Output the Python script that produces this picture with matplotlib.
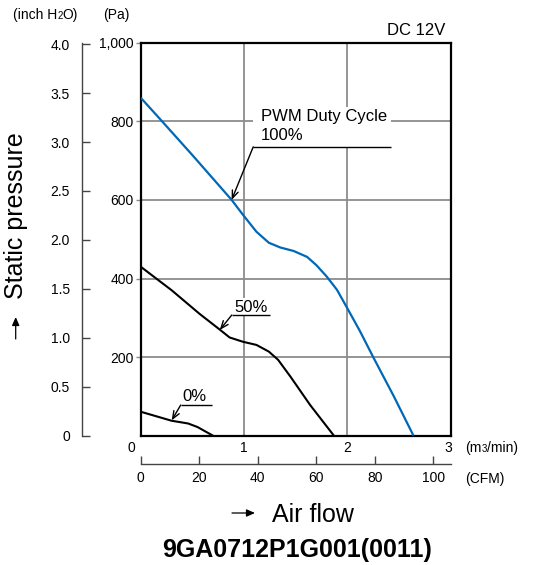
import matplotlib
matplotlib.use("Agg")
import matplotlib.pyplot as plt
from matplotlib.patches import Rectangle, FancyArrowPatch

plt.rcParams['font.family'] = ['Liberation Sans', 'DejaVu Sans']

# ---------------- data (air flow m3/min, static pressure Pa) ----------------
flow_100 = [0.00, 0.20, 0.50, 0.88, 0.99, 1.12, 1.24, 1.35, 1.48, 1.61,
            1.70, 1.80, 1.90, 2.00, 2.12, 2.25, 2.45, 2.64]
pres_100 = [860, 802, 714, 600, 562, 519, 491, 479, 470, 455,
            434, 405, 371, 324, 267, 200, 100, 0]

flow_50 = [0.00, 0.30, 0.57, 0.77, 0.86, 0.99, 1.12, 1.24, 1.33,
           1.45, 1.64, 1.87]
pres_50 = [430, 370, 310, 269, 250, 239, 231, 214, 193,
           150, 78, 0]

flow_0 = [0.00, 0.30, 0.37, 0.46, 0.55, 0.70]
pres_0 = [61, 38, 35, 31, 22, 0]

m3_ticks = [0, 1, 2, 3]
m3_labels = ['0', '1', '2', '3']
pa_ticks = [200, 400, 600, 800, 1000]
pa_labels = ['200', '400', '600', '800', '1,000']
inch_ticks = [0, 0.5, 1.0, 1.5, 2.0, 2.5, 3.0, 3.5, 4.0]
inch_labels = ['0', '0.5', '1.0', '1.5', '2.0', '2.5', '3.0', '3.5', '4.0']
cfm_ticks = [0, 20, 40, 60, 80, 100]
cfm_labels = ['0', '20', '40', '60', '80', '100']

PA_PER_INCH = 249.089
CFM_PER_M3 = 35.3147

W, H = 537, 565
fig = plt.figure(figsize=(W / 100, H / 100), dpi=100)

def fx(px):
    return px / W

def fy(py):
    return 1 - py / H

L, R, T, B = 140.7, 450.7, 42.7, 435.7
ax = fig.add_axes([fx(L), fy(B), (R - L) / W, (B - T) / H])
ax.set_xlim(0, 3)
ax.set_ylim(0, 1000)

grid_c = '#8c8c8c'
for v in [1, 2]:
    ax.axvline(v, color=grid_c, lw=1.3, zorder=1)
for v in [200, 400, 600, 800]:
    ax.axhline(v, color=grid_c, lw=1.3, zorder=1)

for s in ax.spines.values():
    s.set_linewidth(1.6)
    s.set_color('black')

blue = '#0068b7'
ax.plot(flow_100, pres_100, color=blue, lw=1.6, zorder=4, solid_capstyle='butt',
        solid_joinstyle='round')
ax.plot(flow_50, pres_50, color='black', lw=1.5, zorder=4, solid_capstyle='butt',
        solid_joinstyle='round')
ax.plot(flow_0, pres_0, color='black', lw=1.5, zorder=4, solid_capstyle='butt',
        solid_joinstyle='round')

# Pa axis
ax.set_yticks(pa_ticks, pa_labels)
ax.tick_params(axis='y', direction='out', length=3.5, width=1.0, color=grid_c,
               pad=1.5, labelsize=10)
# m3/min axis: labels drawn as annotations
ax.set_xticks([])
for v, lab in zip(m3_ticks, m3_labels):
    ha = 'center'
    dx = 0
    if v == 0:
        ha = 'right'
        dx = -4
    if v == 3:
        dx = -1.5
    ax.annotate(lab, xy=(v, 0), xycoords=('data', 'axes fraction'),
                xytext=(dx, -11.6), textcoords='offset points',
                ha=ha, va='baseline', fontsize=10)

# inch H2O axis
sec_y = ax.secondary_yaxis(-58.7 / (R - L),
                           functions=(lambda p: p / PA_PER_INCH,
                                      lambda i: i * PA_PER_INCH))
sec_y.set_yticks(inch_ticks, inch_labels)
sec_y.tick_params(direction='in', length=5.8, width=1.0, color='#444444',
                  pad=8.6, labelsize=10)
sec_y.spines['left'].set_color('#444444')
sec_y.spines['left'].set_linewidth(1.0)

# CFM axis
sec_x = ax.secondary_xaxis(-(464.3 - B) / (B - T),
                           functions=(lambda m: m * CFM_PER_M3,
                                      lambda c: c / CFM_PER_M3))
sec_x.set_xticks(cfm_ticks, cfm_labels)
sec_x.tick_params(direction='in', length=5.5, width=1.0, color='#444444',
                  pad=4.5, labelsize=10)
sec_x.spines['bottom'].set_color('#444444')
sec_x.spines['bottom'].set_linewidth(1.0)

# annotations
ann_c = 'black'

def leader(tip, corner, end_x, box_top):
    ax.add_patch(Rectangle((corner[0], corner[1]), end_x - corner[0],
                           box_top - corner[1], facecolor='white',
                           edgecolor='none', zorder=2))
    ax.plot([corner[0], end_x], [corner[1], corner[1]], color=ann_c, lw=1.0,
            zorder=5, solid_capstyle='butt')
    ax.annotate('', xy=tip, xytext=corner,
                arrowprops=dict(arrowstyle='->,head_length=0.55,head_width=0.22',
                                color=ann_c, lw=1.0, shrinkA=0, shrinkB=0),
                zorder=5)

leader((0.88, 600), (1.089, 735), 2.427, 837)
ax.text(1.165, (B - 120.7) / 0.393, 'PWM Duty Cycle', fontsize=12,
        ha='left', va='baseline', zorder=6)
ax.text(1.165, (B - 140.0) / 0.393, '100%', fontsize=12,
        ha='left', va='baseline', zorder=6)

leader((0.765, 269), (0.881, 307), 1.252, 350)
ax.text(1.065, (B - 311.7) / 0.393, '50%', fontsize=12, ha='center',
        va='baseline', zorder=6)

leader((0.30, 39), (0.387, 78), 0.687, 112)
ax.text(0.519, (B - 401.0) / 0.393, '0%', fontsize=12, ha='center',
        va='baseline', zorder=6)

# ---------------- free texts ----------------
fig.text(fx(445.7), fy(35), 'DC 12V', fontsize=12, ha='right', va='baseline')

renderer = fig.canvas.get_renderer()

def runs(x_px, y_px, parts):
    x = x_px
    for s, size in parts:
        t = fig.text(fx(x), fy(y_px), s, fontsize=size, ha='left',
                     va='baseline')
        x += t.get_window_extent(renderer).width

runs(13, 19, [('(inch H', 10), ('2', 7), ('O)', 10)])
fig.text(fx(103), fy(19), '(Pa)', fontsize=10, ha='left', va='baseline')
runs(465, 451.7, [('(m', 10), ('3', 7), ('/min)', 10)])
fig.text(fx(465), fy(482.5), '(CFM)', fontsize=10, ha='left', va='baseline')

fig.text(fx(15.7), fy(215.8), 'Static pressure', fontsize=18, rotation=90,
         ha='center', va='center')
for p0, p1 in [((15.7, 339), (15.7, 317)), ((232, 513), (255, 513))]:
    fig.add_artist(FancyArrowPatch(
        (fx(p0[0]), fy(p0[1])), (fx(p1[0]), fy(p1[1])),
        transform=fig.transFigure,
        arrowstyle='-|>,head_length=5,head_width=2.2', color='black', lw=0.9,
        shrinkA=0, shrinkB=0))
fig.text(fx(271.7), fy(521.7), 'Air flow', fontsize=18, ha='left',
         va='baseline')

fig.text(fx(297), fy(556.7), '9GA0712P1G001(0011)', fontsize=18,
         fontweight='bold', ha='center', va='baseline')

fig.savefig('out.png', dpi=100)
